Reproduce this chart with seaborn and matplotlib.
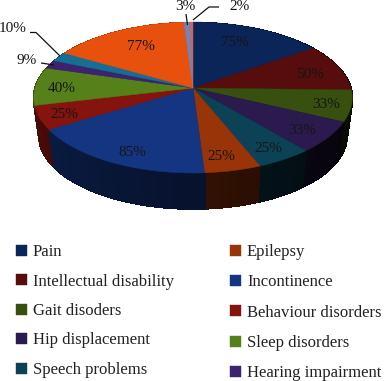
import numpy as np
import matplotlib
matplotlib.use("Agg")
import matplotlib.pyplot as plt
from matplotlib.transforms import Transform, Affine2D
from matplotlib.patches import Patch
import seaborn as sns

legend_left = ["Pain", "Intellectual disability", "Gait disoders", "Hip displacement", "Speech problems"]
legend_right = ["Epilepsy", "Incontinence", "Behaviour disorders", "Sleep disorders", "Hearing impairment"]
values = [75, 50, 33, 33, 25, 25, 85, 25, 40, 9, 10, 77, 3, 2]
colors = ["#0b2558", "#570d0d", "#37500f", "#2a1a4e", "#0b4256", "#983408", "#143582",
          "#85140f", "#55801a", "#3d2270", "#156f92", "#e8500e", "#6f86bc", "#c06a68"]
label_xy = [(235, 43), (310, 74), (326, 104), (302, 130), (268, 148), (221, 157), (132, 152),
            (64, 115), (62, 89), (27, 60), (13, 29), (141, 47), (185, 7), (240, 6)]

W, H = 385, 381
CX, CY = 193, 88
SX, SY, K = 158.0, 74.3, 0.126
DEPTH, SHRINK, LAYERS = 38.5, 0.035, 40

sns.set_theme(style="white")
plt.rcParams["font.family"] = ["Liberation Serif", "DejaVu Serif"]


class Perspective(Transform):
    input_dims = output_dims = 2
    has_inverse = False
    is_separable = False

    def transform_non_affine(self, v):
        v = np.asarray(v, float)
        w = 1 + K * v[:, 1]
        return np.column_stack([v[:, 0] / w, v[:, 1] * (SY / SX) / w])


fig = plt.figure(figsize=(W / 100, H / 100), dpi=100)
ax = fig.add_axes([0, 0, 1, 1])
persp = Perspective()

# side wall: a stack of pies, each slice cut into shaded strips
vals = np.array(values, float)
N = 12
wall_vals, wall_cols = [], []
start = 0.0
for v, c in zip(vals, colors):
    for j in range(N):
        theta = (start + v * (j + 0.5) / N) / vals.sum() * 360
        shade = np.clip(0.08 + (theta - 90) / 180 * 0.52, 0.06, 0.62)
        rgb = np.array(matplotlib.colors.to_rgb(c)) * shade
        wall_vals.append(v / N)
        wall_cols.append(tuple(rgb))
    start += v

for i in range(LAYERS, 0, -1):
    t = i / LAYERS
    wedges, _ = ax.pie(wall_vals, colors=wall_cols, startangle=90, counterclock=False,
                       wedgeprops=dict(linewidth=1.2, antialiased=False))
    for w, col in zip(wedges, wall_cols):
        w.set_edgecolor(col)
        w.set_transform(persp + Affine2D().scale(1 - SHRINK * t).translate(0, -DEPTH * t / SX) + ax.transData)

wedges, _ = ax.pie(vals, colors=sns.color_palette(colors), startangle=90, counterclock=False,
                   wedgeprops=dict(linewidth=0.3))
for w, col in zip(wedges, colors):
    w.set_edgecolor(col)
    w.set_transform(persp + ax.transData)

ax.set_aspect("auto")
ax.set_xlim(-CX / SX, (W - CX) / SX)
ax.set_ylim(-(H - CY) / SX, CY / SX)
ax.axis("off")

px = Affine2D().scale(1, -1).translate(0, H)
ink = "#151515"
for v, (x, y) in zip(values, label_xy):
    ax.text(x, y, f"{v}%", transform=px, ha="center", va="center", fontsize=11, color=ink, clip_on=False)

leaders = [([30, 36, 60], [32.5, 32.5, 56]), ([41, 54], [63, 65]),
           ([186, 187.5], [14, 25]), ([219, 209, 193], [7, 7, 20])]
for xs, ys in leaders:
    ax.plot(xs, ys, transform=px, color="#111111", lw=0.9, solid_capstyle="butt")


def make_legend(names, cols, x, y, spacing):
    handles = [Patch(facecolor=c, edgecolor=c, linewidth=0.3) for c in cols]
    leg = fig.legend(handles, names, loc="upper left", bbox_to_anchor=(x / W, 1 - y / H),
                     frameon=False, fontsize=12, handlelength=0.66, handleheight=0.66,
                     handletextpad=0.36, labelspacing=spacing, borderpad=0, borderaxespad=0,
                     labelcolor="#222222")
    return leg


l1 = make_legend(legend_left, colors[:5], 16, 244, 0.81)
l2 = make_legend(legend_right, colors[5:10], 230, 244, 0.86)
fig.savefig("out.png", dpi=100)
